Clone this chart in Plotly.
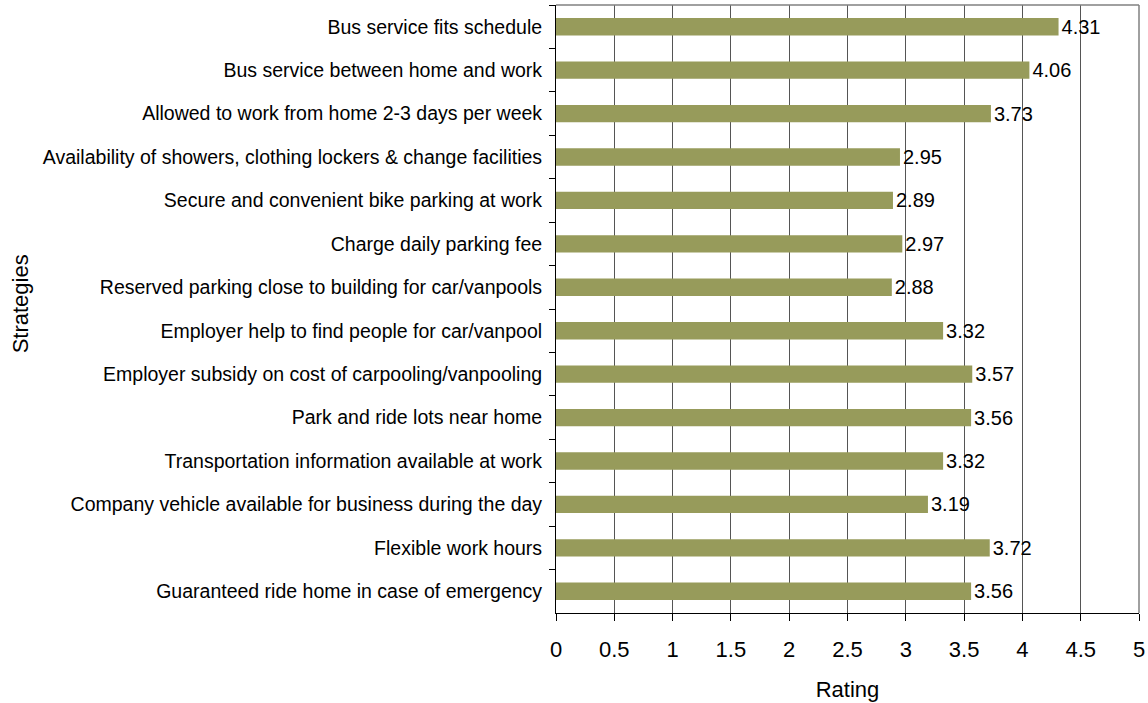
import plotly.graph_objects as go

categories = [
    "Bus service fits schedule",
    "Bus service between home and work",
    "Allowed to work from home 2-3 days per week",
    "Availability of showers, clothing lockers & change facilities",
    "Secure and convenient bike parking at work",
    "Charge daily parking fee",
    "Reserved parking close to building for car/vanpools",
    "Employer help to find people for car/vanpool",
    "Employer subsidy on cost of carpooling/vanpooling",
    "Park and ride lots near home",
    "Transportation information available at work",
    "Company vehicle available for business during the day",
    "Flexible work hours",
    "Guaranteed ride home in case of emergency",
]
ratings = [4.31, 4.06, 3.73, 2.95, 2.89, 2.97, 2.88, 3.32, 3.57, 3.56, 3.32, 3.19, 3.72, 3.56]
x_ticks = [0, 0.5, 1, 1.5, 2, 2.5, 3, 3.5, 4, 4.5, 5]

FONT = "Liberation Sans, Arial, sans-serif"

fig = go.Figure()
fig.add_trace(go.Bar(
    y=categories,
    x=ratings,
    orientation="h",
    width=0.4,
    marker=dict(color="#979B5B", line=dict(width=0)),
    text=[f"{v:.2f}" for v in ratings],
    textposition="outside",
    constraintext="none",
    textfont=dict(family=FONT, size=20, color="#000000"),
    cliponaxis=False,
))

fig.update_layout(
    width=1148, height=703,
    paper_bgcolor="white", plot_bgcolor="white",
    margin=dict(l=556, r=9, t=5, b=90, autoexpand=False),
    showlegend=False,
    font=dict(family=FONT, color="#000000"),
    xaxis=dict(
        range=[0, 5], tickvals=x_ticks, ticktext=[f"{t:g}" for t in x_ticks],
        showgrid=True, gridcolor="#555555", gridwidth=1,
        showline=True, linecolor="#000000", linewidth=1,
        ticks="outside", ticklen=7, tickcolor="#000000",
        tickfont=dict(size=22, family=FONT),
        ticklabeloverflow="allow",
        ticklabelstandoff=10,
        title=dict(text="Rating", font=dict(size=22, family=FONT), standoff=20),
        zeroline=False, automargin=False,
    ),
    yaxis=dict(
        categoryorder="array", categoryarray=categories,
        autorange="reversed",
        showline=True, linecolor="#000000", linewidth=1,
        ticks="outside", ticklen=6, tickcolor="#000000",
        tickson="boundaries",
        tickfont=dict(size=19.5, family=FONT),
        ticklabelstandoff=9,
        showgrid=False, zeroline=False, automargin=False,
    ),
    annotations=[dict(
        text="Strategies", textangle=-90, showarrow=False,
        xref="paper", yref="paper", x=-0.919, y=0.508,
        xanchor="center", yanchor="middle",
        font=dict(size=22, family=FONT, color="#000000"),
    )],
)

# gray border on top and right of plot area
fig.add_shape(type="line", xref="paper", yref="paper", x0=0, x1=1, y0=1, y1=1,
              line=dict(color="#808080", width=1.5))
fig.add_shape(type="line", xref="paper", yref="paper", x0=1, x1=1, y0=0, y1=1,
              line=dict(color="#808080", width=1.5))

fig.write_html("out.html", config={"displayModeBar": False},
               post_script="document.body.style.margin='0';")
